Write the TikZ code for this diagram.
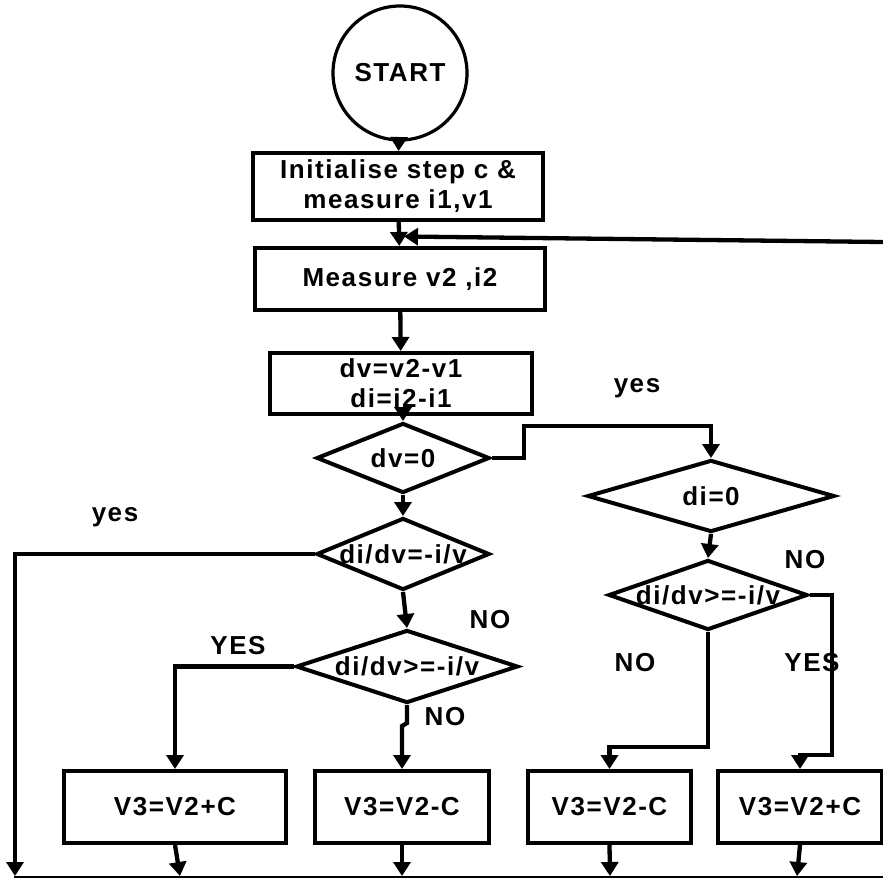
\documentclass[tikz,border=0pt]{standalone}
\usepackage{fontspec}
\setmainfont{Liberation Sans}[LetterSpace=6]
\usetikzlibrary{arrows.meta,shapes.geometric}
\newcommand\flowfont{\fontsize{26pt}{30pt}\selectfont\bfseries}
\begin{document}
\begin{tikzpicture}[x=1pt,y=-1pt,
  box/.style={draw, rectangle, line width=4pt, inner sep=0pt, font=\flowfont, align=center},
  dia/.style={draw, diamond, line width=4pt, inner sep=0pt},
  lbl/.style={font=\flowfont, inner sep=0pt},
  conn/.style={line width=4.3pt, -{Triangle[length=14pt,width=17pt]}},
  plain/.style={line width=4.3pt}]
\useasboundingbox (0,0) rectangle (883,878);
% nodes
\node[draw, circle, line width=3.2pt, minimum size=134pt, inner sep=0pt, font=\flowfont] (start) at (400,73) {START};
\node[box, minimum width=290pt, minimum height=67pt] (init) at (398,186.5) {Initialise step c \&\\measure i1,v1};
\node[box, minimum width=290pt, minimum height=62pt] (meas) at (400,279) {Measure v2 ,i2};
\node[box, minimum width=262pt, minimum height=61pt] (diff) at (401,383.5) {dv=v2-v1\\di=i2-i1};
\node[dia, minimum width=173pt, minimum height=70pt, label={[lbl]center:dv=0}] (d1) at (403,458) {};
\node[dia, minimum width=247pt, minimum height=72pt, label={[lbl]center:di=0}] (d2) at (711,496) {};
\node[dia, minimum width=173pt, minimum height=72pt, label={[lbl]center:di/dv=-i/v}] (d3) at (403,554) {};
\node[dia, minimum width=199pt, minimum height=70pt, label={[lbl]center:di/dv>=-i/v}] (d4) at (708,595) {};
\node[dia, minimum width=222pt, minimum height=73pt, label={[lbl]center:di/dv>=-i/v}] (d5) at (407,666.5) {};
\node[box, minimum width=222pt, minimum height=72pt] (b1) at (175,807) {V3=V2+C};
\node[box, minimum width=174pt, minimum height=72pt] (b2) at (402,807) {V3=V2-C};
\node[box, minimum width=163pt, minimum height=72pt] (b3) at (609.5,807) {V3=V2-C};
\node[box, minimum width=164pt, minimum height=72pt] (b4) at (800,807) {V3=V2+C};
% labels
\node[lbl] (l1) at (637,388) {yes};
\node[lbl] (l2) at (115,517) {yes};
\node[lbl] (l3) at (805,560) {NO};
\node[lbl] (l4) at (490,620) {NO};
\node[lbl] (l5) at (238,646) {YES};
\node[lbl] (l6) at (445,717) {NO};
\node[lbl] (l7) at (635,663) {NO};
\node[lbl] (l8) at (812,663) {YES};
% free ends
\coordinate (fb0) at (883,242);
\coordinate (fb1) at (404,236.5);
\coordinate (e0) at (15,876);
\coordinate (e1) at (180,876);
\coordinate (e2) at (402,876);
\coordinate (e3) at (610,876);
\coordinate (e4) at (797,876);
\coordinate (bl0) at (14,877);
\coordinate (bl1) at (883,877);
% connectors
\draw[conn] (start) -- (init);
\draw[conn] (init) -- (meas);
\draw[conn] (fb0) -- (fb1);
\draw[conn] (meas) -- (diff);
\draw[conn] (diff.south -| d1.north) -- (d1.north);
\draw[conn] (d1.east) -- (524,458) -- (524,426) -| (d2.north);
\draw[conn] (d2.south) -- (d4.north);
\draw[conn] (d1.south) -- (d3.north);
\draw[conn] (d3.west) -| (e0);
\draw[conn] (d3.south) -- (d5.north);
\draw[conn] (d5.west) -| (b1.north);
\draw[conn] (d5.south) -- ++(0,18) -- ++(-5,3) -- (b2.north);
\draw[conn] (d4.east) -| (832,755) -| (b4.north);
\draw[conn] (d4.south) -- ++(0,115) -| (b3.north);
\draw[conn] (b1.south) -- (e1);
\draw[conn] (b2.south) -- (e2);
\draw[conn] (b3.south) -- (e3);
\draw[conn] (b4.south) -- (e4);
\draw[line width=2pt] (bl0) -- (bl1);
\end{tikzpicture}
\end{document}
